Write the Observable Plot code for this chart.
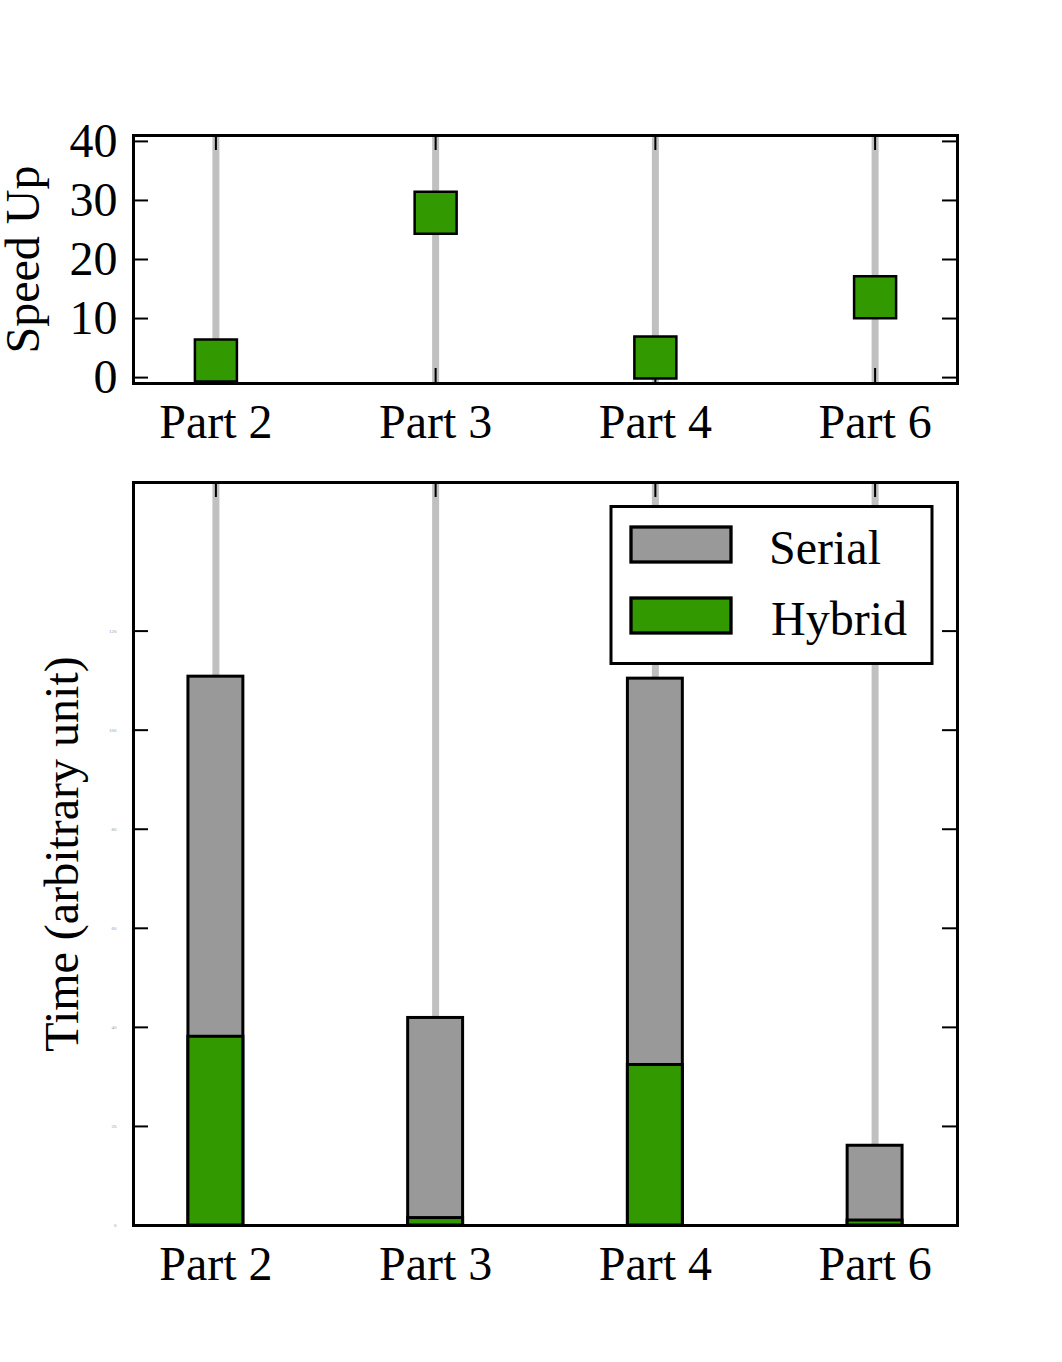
<!DOCTYPE html>
<html>
<head>
<meta charset="utf-8">
<script src="https://cdn.jsdelivr.net/npm/d3@7"></script>
<script src="https://cdn.jsdelivr.net/npm/@observablehq/plot@0.6"></script>
<style>
  body { margin: 0; background: #fff; }
  #wrap { position: relative; width: 1062px; height: 1362px; background: #fff; }
  #wrap > svg { display: block; }
  #legend { position: absolute; left: 0; top: 0; }
</style>
</head>
<body>
<div id="wrap"></div>
<script>
// ---- data ----
const parts = ["Part 2", "Part 3", "Part 4", "Part 6"];
const speedUp = [2.9, 27.9, 3.4, 13.6];
const serialTime = [110.8, 41.9, 110.4, 16.1];
const hybridTime = [38.1, 1.5, 32.4, 1.0];
const speedTicks = [0, 10, 20, 30, 40];
const timeTicks = [0, 20, 40, 60, 80, 100, 120];
const seriesNames = ["Serial", "Hybrid"];
const seriesColors = ["#999999", "#339900"];

const font = '"Liberation Serif", "Times New Roman", serif';
const idx = parts.map((_, i) => i);
const xDomain = [-0.375, 3.375];
const plotW = 1062 - 133 - 105;
const tickLen = 15;
const lineGray = "#c0c0c0";

// ---- top panel: speed up ----
const topH = 460, topMT = 135, topMB = 77;
const topPanelH = topH - topMT - topMB;
const topPlot = Plot.plot({
  width: 1062, height: topH,
  marginLeft: 133, marginRight: 105, marginTop: topMT, marginBottom: topMB,
  style: { fontFamily: font, fontSize: "48px", background: "#fff", color: "#000", overflow: "visible" },
  x: { domain: xDomain },
  y: { domain: [-1, 41] },
  marks: [
    Plot.ruleX(idx, { x: d => d, stroke: lineGray, strokeWidth: 7 }),
    Plot.tickY(speedTicks, { y: d => d, insetRight: plotW - tickLen, stroke: "#000", strokeWidth: 2 }),
    Plot.tickY(speedTicks, { y: d => d, insetLeft: plotW - tickLen, stroke: "#000", strokeWidth: 2 }),
    Plot.tickX(idx, { x: d => d, insetBottom: topPanelH - tickLen, stroke: "#000", strokeWidth: 2 }),
    Plot.tickX(idx, { x: d => d, insetTop: topPanelH - tickLen, stroke: "#000", strokeWidth: 2 }),
    Plot.dot(idx, { x: i => i, y: i => speedUp[i], symbol: "square", r: 23.7,
      fill: seriesColors[1], stroke: "#000", strokeWidth: 2.5 }),
    Plot.axisX(idx, { tickSize: 0, tickPadding: 20, tickFormat: i => parts[i], label: null, fontSize: 48 }),
    Plot.axisY(speedTicks, { tickSize: 0, tickPadding: 16, label: null, fontSize: 48 }),
    Plot.text(["Speed Up"], { frameAnchor: "left", textAnchor: "middle", dx: -110, rotate: -90, fontSize: 48, fill: "#000" }),
    Plot.frame({ stroke: "#000", strokeWidth: 3 })
  ]
});

// ---- bottom panel: time ----
const botH = 902, botMT = 22, botMB = 137;
const botPanelH = botH - botMT - botMB;
const halfBar = 0.125;
const botPlot = Plot.plot({
  width: 1062, height: botH,
  marginLeft: 133, marginRight: 105, marginTop: botMT, marginBottom: botMB,
  style: { fontFamily: font, fontSize: "48px", background: "#fff", color: "#000" },
  x: { domain: xDomain },
  y: { domain: [0, 150] },
  marks: [
    Plot.ruleX(idx, { x: d => d, stroke: lineGray, strokeWidth: 7 }),
    Plot.tickY(timeTicks, { y: d => d, insetRight: plotW - tickLen, stroke: "#000", strokeWidth: 2 }),
    Plot.tickY(timeTicks, { y: d => d, insetLeft: plotW - tickLen, stroke: "#000", strokeWidth: 2 }),
    Plot.tickX(idx, { x: d => d, insetBottom: botPanelH - tickLen, stroke: "#000", strokeWidth: 2 }),
    Plot.tickX(idx, { x: d => d, insetTop: botPanelH - tickLen, stroke: "#000", strokeWidth: 2 }),
    Plot.rect(idx, { x1: i => i - halfBar, x2: i => i + halfBar, y1: () => 0, y2: i => serialTime[i],
      fill: seriesColors[0], stroke: "#000", strokeWidth: 3 }),
    Plot.rect(idx, { x1: i => i - halfBar, x2: i => i + halfBar, y1: () => 0, y2: i => hybridTime[i],
      fill: seriesColors[1], stroke: "#000", strokeWidth: 3 }),
    Plot.axisX(idx, { tickSize: 0, tickPadding: 20, tickFormat: i => parts[i], label: null, fontSize: 48 }),
    Plot.axisY(timeTicks, { tickSize: 0, tickPadding: 17, label: null, fontSize: 5, fill: "#999" }),
    Plot.text(["Time (arbitrary unit)"], { frameAnchor: "left", textAnchor: "middle", dx: -71, rotate: -90, fontSize: 48, fill: "#000" }),
    Plot.frame({ stroke: "#000", strokeWidth: 3 })
  ]
});

const wrap = document.getElementById("wrap");
wrap.appendChild(topPlot);
wrap.appendChild(botPlot);

// ---- legend (overlay) ----
const leg = d3.select(wrap).append("svg")
  .attr("id", "legend")
  .attr("width", 1062).attr("height", 1362)
  .style("pointer-events", "none");
leg.append("rect")
  .attr("x", 611).attr("y", 506.5).attr("width", 321).attr("height", 157)
  .attr("fill", "#fff").attr("stroke", "#000").attr("stroke-width", 3);
const rowY = [544.5, 615.5];
const items = leg.selectAll("g.item").data(seriesNames).join("g").attr("class", "item");
items.append("rect")
  .attr("x", 631).attr("y", (d, i) => rowY[i] - 17.5)
  .attr("width", 100).attr("height", 35)
  .attr("fill", (d, i) => seriesColors[i]).attr("stroke", "#000").attr("stroke-width", 3.3);
items.append("text")
  .attr("x", (d, i) => i === 0 ? 769 : 771)
  .attr("y", (d, i) => rowY[i] + 19.5)
  .attr("font-family", font).attr("font-size", 48).attr("fill", "#000")
  .text(d => d);
</script>
</body>
</html>
